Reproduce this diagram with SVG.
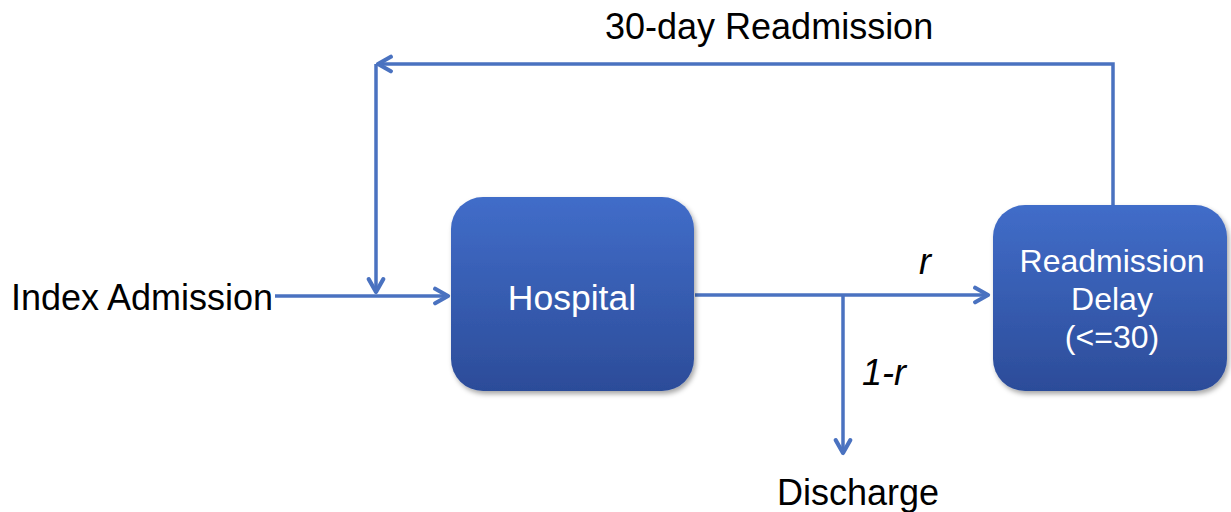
<svg xmlns="http://www.w3.org/2000/svg" width="1231" height="512" viewBox="0 0 1231 512">
  <defs>
    <linearGradient id="boxGrad" x1="0" y1="0" x2="0" y2="1">
      <stop offset="0" stop-color="#416DC9"/>
      <stop offset="1" stop-color="#2C4C99"/>
    </linearGradient>
    <filter id="shadow" x="-10%" y="-10%" width="125%" height="125%">
      <feDropShadow dx="2" dy="3" stdDeviation="2.5" flood-color="#000" flood-opacity="0.35"/>
    </filter>
    <marker id="arrow" viewBox="0 0 12 12" refX="10" refY="6" markerWidth="5.5" markerHeight="5.5" markerUnits="strokeWidth" orient="auto">
      <path d="M2,1.5 L10,6 L2,10.5" fill="none" stroke="#4A72C0" stroke-width="2.6" stroke-linecap="round" stroke-linejoin="round"/>
    </marker>
  </defs>
  <style>
    .box { fill: url(#boxGrad); filter: url(#shadow); }
    .conn { fill: none; stroke: #4A72C0; stroke-width: 3.5; }
    .lbl { font-family: "Liberation Sans", Arial, sans-serif; font-size: 36px; fill: #000; }
    .inlbl { font-family: "Liberation Sans", Arial, sans-serif; font-size: 32px; fill: #fff; text-anchor: middle; }
    .it { font-style: italic; }
  </style>
  <rect width="1231" height="512" fill="#fff"/>

  <g id="connectors">
    <path class="conn" d="M1113,205 L1113,64 L378,64" marker-end="url(#arrow)"/>
    <path class="conn" d="M376,64 L376,292" marker-end="url(#arrow)"/>
    <path class="conn" d="M275,296 L448,296" marker-end="url(#arrow)"/>
    <path class="conn" d="M695,295 L988,295" marker-end="url(#arrow)"/>
    <path class="conn" d="M843,295 L843,453" marker-end="url(#arrow)"/>
  </g>

  <g id="hospital">
    <rect class="box" x="451" y="197" width="243" height="194" rx="32" ry="32"/>
    <text class="inlbl" x="572" y="310" style="font-size:35.5px">Hospital</text>
  </g>

  <g id="readmission-delay">
    <rect class="box" x="993" y="205" width="234" height="186" rx="32" ry="32"/>
    <text class="inlbl" x="1112" y="272">Readmission</text>
    <text class="inlbl" x="1112" y="310">Delay</text>
    <text class="inlbl" x="1112" y="348">(&lt;=30)</text>
  </g>

  <g id="index-admission">
    <text class="lbl" x="11" y="310">Index Admission</text>
  </g>
  <g id="discharge">
    <text class="lbl" x="777" y="505">Discharge</text>
  </g>
  <g id="labels">
    <text class="lbl" x="605" y="39">30-day Readmission</text>
    <text class="lbl it" x="919" y="274">r</text>
    <text class="lbl it" x="862" y="385">1-r</text>
  </g>
</svg>
